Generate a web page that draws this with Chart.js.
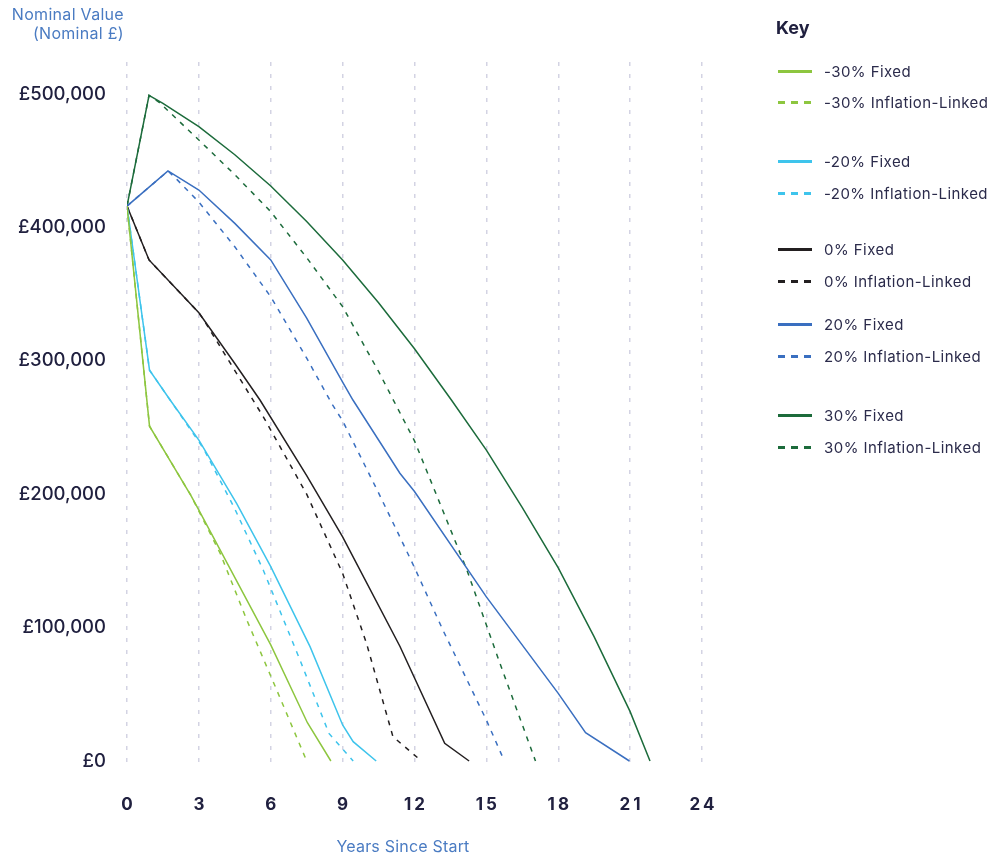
<!DOCTYPE html>
<html>
<head>
<meta charset="utf-8">
<script src="https://cdn.jsdelivr.net/npm/chart.js@4.4.1/dist/chart.umd.min.js"></script>
<style>
  body { margin: 0; background: #fff; font-family: Inter, "Noto Sans", sans-serif; }
  #wrap { position: relative; width: 991px; height: 856px; }
  #chart { position: absolute; left: 0; top: 0; }
  .ytitle { position: absolute; right: 867px; top: 5px; text-align: right; color: #4a7bc2; font-size: 16px; letter-spacing: 0.3px; line-height: 19px; }
  .xtitle { position: absolute; left: 253px; width: 300px; top: 837px; text-align: center; color: #4a7bc2; font-size: 16px; letter-spacing: 0.2px; line-height: 19px; }
  .key { position: absolute; left: 776px; top: 17px; font-size: 18px; font-weight: 700; color: #20203f; }
  .row { position: absolute; left: 778px; height: 20px; display: flex; align-items: center; }
  .swatch { width: 34px; height: 3px; margin-right: 12px; }
  .label { font-size: 15px; letter-spacing: 0.45px; color: #2b2b4b; white-space: nowrap; }
</style>
</head>
<body>
<div id="wrap">
  <canvas id="chart" width="991" height="856"></canvas>
  <div class="ytitle">Nominal Value<br>(Nominal £)</div>
  <div class="xtitle">Years Since Start</div>
  <div class="key">Key</div>
  <div id="legend"></div>
</div>
<script>
// series labels, in legend order
const seriesNames = [
  "-30% Fixed", "-30% Inflation-Linked",
  "-20% Fixed", "-20% Inflation-Linked",
  "0% Fixed", "0% Inflation-Linked",
  "20% Fixed", "20% Inflation-Linked",
  "30% Fixed", "30% Inflation-Linked"
];

// years since start / nominal value (£) for each series
const yearsM30Fixed = [0, 0.94, 2.67, 3, 6, 7.53, 8.51];
const valuesM30Fixed = [416000, 251000, 199000, 188000, 87000, 28700, 0];
const yearsM30Linked = [0, 0.94, 2.67, 3.89, 5, 6.25, 7.5];
const valuesM30Linked = [416000, 251000, 199000, 155700, 105700, 53200, 0];

const yearsM20Fixed = [0, 0.94, 1.8, 3, 4.58, 6, 7.64, 9, 9.44, 10.4];
const valuesM20Fixed = [416000, 293000, 270600, 240600, 193000, 145700, 85700, 27000, 14500, 0];
const yearsM20Linked = [0, 0.94, 1.8, 3.2, 4.5, 5.69, 7.22, 8.43, 9.44];
const valuesM20Linked = [416000, 293000, 270600, 234000, 189000, 143000, 75700, 20700, 0];

const years0Fixed = [0, 0.92, 3, 4.5, 5.55, 7.5, 9, 11.39, 13.26, 14.28];
const values0Fixed = [416000, 375600, 336000, 298000, 270600, 214000, 168000, 86000, 13300, 0];
const years0Linked = [0, 0.92, 3, 3.19, 5.69, 7.5, 9, 10, 11.1, 12.29];
const values0Linked = [416000, 375600, 336000, 331000, 258000, 200000, 140700, 88000, 18200, 0];

const years20Fixed = [0, 1.71, 3, 4.5, 6, 7.5, 9, 9.43, 11.39, 12, 15, 18, 19.14, 20.97];
const values20Fixed = [416000, 442300, 428000, 403000, 375600, 332000, 284000, 270600, 215700, 202000, 123000, 50700, 21200, 0];
const years20Linked = [0, 1.71, 2.08, 3, 4.5, 6, 7.5, 8.58, 9, 10.5, 11.45, 12, 13.19, 15, 15.75];
const values20Linked = [416000, 442300, 436000, 419000, 385500, 348000, 302000, 266900, 255000, 201000, 165700, 145000, 98000, 30700, 0];

const years30Fixed = [0, 0.92, 1.5, 3, 4.5, 6, 7.5, 9, 10.5, 12, 13.54, 15, 16.5, 18, 19.5, 21, 21.83];
const values30Fixed = [416000, 499000, 493000, 475500, 454500, 431000, 404500, 375600, 343500, 309000, 270600, 233000, 190000, 144700, 93000, 37000, 0];
const years30Linked = [0, 0.92, 1.36, 3, 4.5, 6, 7.5, 9, 10.5, 12, 14.17, 15.56, 17.05];
const values30Linked = [416000, 499000, 493500, 465500, 439500, 411800, 377300, 340600, 292000, 240000, 144000, 73500, 0];

const yTickValues = [0, 100000, 200000, 300000, 400000, 500000];

const seriesData = [
  [yearsM30Fixed, valuesM30Fixed], [yearsM30Linked, valuesM30Linked],
  [yearsM20Fixed, valuesM20Fixed], [yearsM20Linked, valuesM20Linked],
  [years0Fixed, values0Fixed], [years0Linked, values0Linked],
  [years20Fixed, values20Fixed], [years20Linked, values20Linked],
  [years30Fixed, values30Fixed], [years30Linked, values30Linked]
];

const groupColours = ["#8dc63f", "#3ec4ec", "#231f20", "#3a6fc0", "#1c6b3b"];
const legendTops = [61, 92, 151, 183, 239, 271, 314, 346, 405, 437];

const datasets = seriesData.map(([xs, ys], i) => ({
  label: seriesNames[i],
  data: xs.map((x, j) => ({ x: x, y: ys[j] })),
  borderColor: groupColours[Math.floor(i / 2)],
  borderWidth: 1.5,
  borderDash: i % 2 ? [5, 6] : [],
  pointRadius: 0,
  tension: 0,
  fill: false
}));

// legend on the right
const legend = document.getElementById("legend");
seriesNames.forEach((name, i) => {
  const row = document.createElement("div");
  row.className = "row";
  row.style.top = legendTops[i] + "px";
  const sw = document.createElement("div");
  sw.className = "swatch";
  const c = groupColours[Math.floor(i / 2)];
  sw.style.background = i % 2
    ? "repeating-linear-gradient(to right, " + c + " 0 7px, transparent 7px 13px)"
    : c;
  const lb = document.createElement("span");
  lb.className = "label";
  lb.textContent = name;
  row.appendChild(sw);
  row.appendChild(lb);
  legend.appendChild(row);
});

// x tick labels are spaced out a little in the original
const spacedLabels = (scale) => {
  if (scale._spaced) return;
  scale._spaced = true;
  const draw = scale.drawLabels.bind(scale);
  scale.drawLabels = (area) => {
    const ctx = scale.ctx;
    ctx.save();
    ctx.letterSpacing = "3px";
    ctx.translate(1.5, 0);
    draw(area);
    ctx.restore();
  };
};

new Chart(document.getElementById("chart"), {
  type: "line",
  data: { datasets: datasets },
  options: {
    responsive: false,
    animation: false,
    devicePixelRatio: 1,
    layout: { padding: { top: 62, right: 289, left: 0, bottom: 0 } },
    plugins: { legend: { display: false }, tooltip: { enabled: false } },
    scales: {
      x: {
        type: "linear",
        min: 0,
        max: 24,
        afterFit: (scale) => { scale.height = 86; spacedLabels(scale); },
        grid: { color: "#d3d3e3", lineWidth: 1.5, drawTicks: false },
        border: { display: false, dash: [4, 8] },
        ticks: {
          stepSize: 3,
          padding: 25,
          color: "#20203f",
          font: { family: "Inter", size: 17, weight: "700" }
        }
      },
      y: {
        min: -6750,
        max: 524000,
        afterFit: (scale) => { scale.width = 127; },
        afterBuildTicks: (scale) => { scale.ticks = yTickValues.map(v => ({ value: v })); },
        grid: { display: false, drawTicks: false },
        border: { display: false },
        ticks: {
          padding: 21,
          color: "#20203f",
          font: { family: "Inter", size: 18.5, weight: "500" },
          callback: (v) => "£" + v.toLocaleString("en-GB")
        }
      }
    }
  }
});
</script>
</body>
</html>
